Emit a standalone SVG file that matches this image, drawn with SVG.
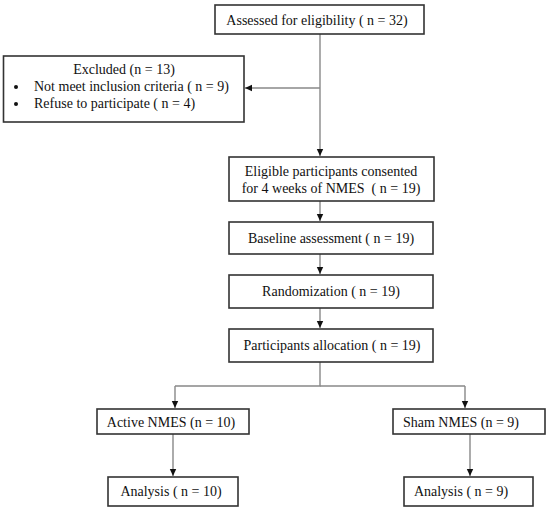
<svg xmlns="http://www.w3.org/2000/svg" width="550" height="511" viewBox="0 0 550 511">
<style>
.box{fill:#fff;stroke:#333;stroke-width:1.6}
.t{font-family:"Liberation Serif","Times New Roman",serif;font-size:14px;fill:#111}
.c{text-anchor:middle}
.ln{fill:none;stroke:#888;stroke-width:1.4}
</style>
<defs>
<marker id="ah" markerWidth="8" markerHeight="8" refX="7" refY="4" orient="auto" markerUnits="userSpaceOnUse">
<path d="M0,0.8 L7,4 L0,7.2 Z" fill="#111"/>
</marker>
</defs>
<rect width="550" height="511" fill="#fff"/>
<g id="connectors">
<line class="ln" x1="320" y1="34" x2="320" y2="156" marker-end="url(#ah)"/>
<line class="ln" x1="320" y1="88" x2="245" y2="88" marker-end="url(#ah)"/>
<line class="ln" x1="320" y1="201" x2="320" y2="221" marker-end="url(#ah)"/>
<line class="ln" x1="320" y1="254" x2="320" y2="274" marker-end="url(#ah)"/>
<line class="ln" x1="320" y1="308" x2="320" y2="328" marker-end="url(#ah)"/>
<polyline class="ln" points="320,362 320,386 175,386"/>
<line class="ln" x1="320" y1="386" x2="465" y2="386"/>
<line class="ln" x1="175" y1="386" x2="175" y2="408" marker-end="url(#ah)"/>
<line class="ln" x1="465" y1="386" x2="465" y2="408" marker-end="url(#ah)"/>
<line class="ln" x1="173" y1="434" x2="173" y2="476" marker-end="url(#ah)"/>
<line class="ln" x1="470" y1="434" x2="470" y2="476" marker-end="url(#ah)"/>
</g>
<g id="assessed">
<rect class="box" x="215" y="5" width="209" height="29"/>
<text class="t c" x="317" y="24.5">Assessed for eligibility ( n = 32)</text>
</g>
<g id="excluded">
<rect class="box" x="3.5" y="56" width="240.5" height="66"/>
<text class="t c" x="124" y="74">Excluded (n = 13)</text>
<circle cx="16" cy="87" r="2" fill="#111"/>
<text class="t" x="34" y="91">Not meet inclusion criteria ( n = 9)</text>
<circle cx="16" cy="104" r="2" fill="#111"/>
<text class="t" x="34" y="108">Refuse to participate ( n = 4)</text>
</g>
<g id="eligible">
<rect class="box" x="229" y="157" width="205" height="44"/>
<text class="t c" x="331" y="176">Eligible participants consented</text>
<text class="t c" x="331" y="193" xml:space="preserve">for 4 weeks of NMES  ( n = 19)</text>
</g>
<g id="baseline">
<rect class="box" x="229" y="222" width="204" height="32"/>
<text class="t c" x="331" y="243">Baseline assessment ( n = 19)</text>
</g>
<g id="randomization">
<rect class="box" x="229" y="275" width="204" height="33"/>
<text class="t c" x="331" y="296">Randomization ( n = 19)</text>
</g>
<g id="allocation">
<rect class="box" x="229" y="329" width="204" height="33"/>
<text class="t c" x="332" y="350">Participants allocation ( n = 19)</text>
</g>
<g id="active">
<rect class="box" x="97" y="409" width="152" height="25"/>
<text class="t c" x="171" y="426.5">Active NMES (n = 10)</text>
</g>
<g id="sham">
<rect class="box" x="393" y="409" width="152" height="25"/>
<text class="t c" x="461" y="426.5">Sham NMES (n = 9)</text>
</g>
<g id="analysis-active">
<rect class="box" x="108" y="477" width="130" height="29"/>
<text class="t c" x="171" y="496">Analysis ( n = 10)</text>
</g>
<g id="analysis-sham">
<rect class="box" x="404" y="477" width="129" height="29"/>
<text class="t c" x="461" y="496">Analysis ( n = 9)</text>
</g>
</svg>
